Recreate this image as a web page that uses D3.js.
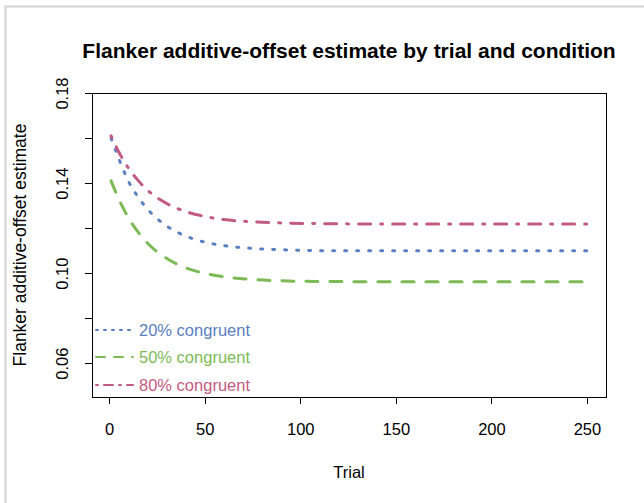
<!DOCTYPE html>
<html>
<head>
<meta charset="UTF-8">
<title>Flanker additive-offset estimate</title>
<style>
body {
    margin: 0;
    background: #fff;
}

text {
    font-family: "Liberation Sans", Arial, sans-serif;
    fill: #000;
}

.frame {
    fill: none;
    stroke: #d3d3d3;
    stroke-width: 2px;
}

.axis path,
.axis line {
    stroke: #000;
    shape-rendering: crispEdges;
}

.tick text {
    font-size: 16.5px;
}

.series {
    fill: none;
    stroke-width: 3px;
    stroke-linecap: round;
}
</style>
</head>
<body>
<div class="chart"></div>
<script src="https://cdn.jsdelivr.net/npm/d3@7"></script>
<script>

// values
const trials = [1, 5, 10, 15, 20, 30, 40, 50, 60, 75, 90, 110, 150, 200, 250];
const cong20 = [0.160, 0.151, 0.141, 0.134, 0.1285, 0.121, 0.1165, 0.1138, 0.1122, 0.1110, 0.1104, 0.1100, 0.1099, 0.1099, 0.1099];
const cong50 = [0.141, 0.133, 0.1247, 0.1184, 0.1134, 0.1066, 0.1024, 0.0999, 0.0984, 0.0972, 0.0966, 0.0963, 0.0962, 0.0962, 0.0962];
const cong80 = [0.161, 0.1539, 0.1468, 0.1413, 0.1369, 0.131, 0.1274, 0.1252, 0.1238, 0.1228, 0.1223, 0.1220, 0.1218, 0.1218, 0.1218];

const seriesNames = ['20% congruent', '50% congruent', '80% congruent'];
const seriesColors = ['#5b80c2', '#7cba56', '#c25b82'];
const seriesDash = ['2,10', '12,12', '2,10,12,10'];
const legendDash = ['2,6', '9,9', '2,6,9,6'];

const xTicks = [0, 50, 100, 150, 200, 250];
const yTicks = [0.06, 0.08, 0.10, 0.12, 0.14, 0.16, 0.18];
const yLabelled = [0.06, 0.10, 0.14, 0.18];

let width = 644, height = 503,
    plotL = 92, plotR = 606, plotT = 93, plotB = 397;

let svg = d3.select('.chart').append('svg')
    .attr('width', width)
    .attr('height', height);

svg.append('rect')
    .attr('class', 'frame')
    .attr('x', 5.5)
    .attr('y', 6.5)
    .attr('width', width + 10)
    .attr('height', height + 10);

// R style 4% padding on x
let xPad = (250 - 1) * 0.04;
let xScale = d3.scaleLinear()
    .domain([1 - xPad, 250 + xPad])
    .range([plotL, plotR]);

let yScale = d3.scaleLinear()
    .domain([0.045, 0.18])
    .range([plotB, plotT]);

// x axis
let xAxis = d3.axisBottom(xScale)
    .tickValues(xTicks)
    .tickSize(7)
    .tickPadding(19)
    .tickFormat(d3.format('d'));

svg.append('g')
    .attr('class', 'axis')
    .attr('transform', 'translate(0,' + plotB + ')')
    .call(xAxis)
    .call(g => g.select('.domain').attr('d', 'M' + xScale(0) + ',0.5H' + xScale(250)));

// y axis
let yAxis = d3.axisLeft(yScale)
    .tickValues(yTicks)
    .tickSize(7)
    .tickFormat(d => yLabelled.some(v => Math.abs(v - d) < 1e-9) ? d3.format('.2f')(d) : '');

svg.append('g')
    .attr('class', 'axis')
    .attr('transform', 'translate(' + plotL + ',0)')
    .call(yAxis)
    .call(g => {
        g.select('.domain').attr('d', 'M0.5,' + yScale(0.06) + 'V' + yScale(0.18));
        g.selectAll('.tick text')
            .attr('x', null)
            .attr('dy', null)
            .attr('transform', 'translate(-24,0) rotate(-90)')
            .attr('text-anchor', 'middle');
    });

// plot box
svg.append('rect')
    .attr('x', plotL + 0.5)
    .attr('y', plotT + 0.5)
    .attr('width', plotR - plotL)
    .attr('height', plotB - plotT)
    .attr('fill', 'none')
    .attr('stroke', '#000');

let line = d3.line()
    .x(d => xScale(d[0]))
    .y(d => yScale(d[1]))
    .curve(d3.curveMonotoneX);

[cong20, cong50, cong80].forEach((vals, i) => {
    svg.append('path')
        .attr('class', 'series')
        .attr('d', line(trials.map((t, j) => [t, vals[j]])))
        .attr('stroke', seriesColors[i])
        .attr('stroke-dasharray', seriesDash[i]);
});

// legend
let legendY = [330, 357, 385];
let legend = svg.append('g');
seriesNames.forEach((name, i) => {
    legend.append('line')
        .attr('x1', 96)
        .attr('x2', 133)
        .attr('y1', legendY[i])
        .attr('y2', legendY[i])
        .attr('stroke', seriesColors[i])
        .attr('stroke-width', 2)
        .attr('stroke-linecap', 'round')
        .attr('stroke-dasharray', legendDash[i]);
    legend.append('text')
        .attr('x', 139)
        .attr('y', legendY[i] + 6)
        .style('font-size', '16.5px')
        .style('fill', seriesColors[i])
        .text(name);
});

// titles
svg.append('text')
    .attr('x', (plotL + plotR) / 2)
    .attr('y', 58)
    .attr('text-anchor', 'middle')
    .style('font-size', '21px')
    .style('font-weight', 'bold')
    .text('Flanker additive-offset estimate by trial and condition');

svg.append('text')
    .attr('x', (plotL + plotR) / 2)
    .attr('y', 478)
    .attr('text-anchor', 'middle')
    .style('font-size', '16.5px')
    .text('Trial');

svg.append('text')
    .attr('transform', 'translate(26,' + (plotT + plotB) / 2 + ') rotate(-90)')
    .attr('text-anchor', 'middle')
    .style('font-size', '17.5px')
    .text('Flanker additive-offset estimate');

</script>
</body>
</html>
